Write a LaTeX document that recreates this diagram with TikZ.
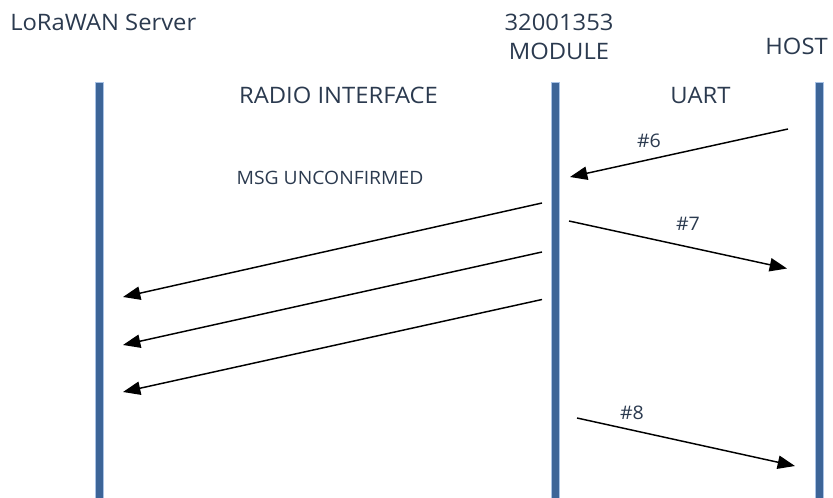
\documentclass[tikz,border=0pt]{standalone}
\usepackage{fontspec}
\setmainfont{Open Sans}[FakeStretch=1.05]
\usepackage{xcolor}
\usetikzlibrary{arrows.meta}
\usetikzlibrary{positioning}

\definecolor{BarBlue}{HTML}{3D6598}
\definecolor{BarEdge}{HTML}{A9C3E6}
\definecolor{LabelInk}{HTML}{2B3A4F}

\tikzset{
  lifeline/.style={draw=BarEdge, fill=BarBlue, line width=0.4pt},
  head/.style={font=\fontsize{17}{19}\selectfont, color=LabelInk, inner sep=0pt},
  msg/.style={-{Triangle[length=13pt, width=10pt]}, line width=1.1pt, color=black, shorten >=0pt},
  num/.style={font=\fontsize{14}{16}\selectfont, color=LabelInk, inner sep=0pt}
}

\begin{document}
\begin{tikzpicture}[x=0.75pt, y=-0.75pt]

    \useasboundingbox (0,0) rectangle (833,498);

    % lifelines
    \draw [lifeline] (95,82) rectangle (103.5,498);
    \draw [lifeline] (551,82) rectangle (559.5,498);
    \draw [lifeline] (815,82) rectangle (823.5,498);

    % headings
    \node [head, anchor=west] (server) at (10,22) {LoRaWAN Server};
    \node [head, align=center] (module) at (559,37) {32001353\\[3pt]MODULE};
    \node [head, anchor=east] (host) at (828,46) {HOST};
    \node [head] (radio) at (338.5,95) {RADIO INTERFACE};
    \node [head] (uart) at (700.5,95) {UART};
    \node [font=\fontsize{13.8}{16}\selectfont, color=LabelInk, inner sep=0pt] (unconf) at (330,178) {MSG UNCONFIRMED};

    % end points
    \coordinate (h6) at (788,129);
    \coordinate (m6) at (570,177);
    \coordinate (m7) at (569,221);
    \coordinate (h7) at (787,268.5);
    \coordinate (ma) at (542,203);
    \coordinate (sa) at (123,297);
    \coordinate (mb) at (542,252);
    \coordinate (sb) at (123,345);
    \coordinate (mc) at (542,299.5);
    \coordinate (sc) at (123,392);
    \coordinate (m8) at (577,418);
    \coordinate (h8) at (795,466);

    % messages
    \draw [msg] (h6) -- (m6);
    \draw [msg] (m7) -- (h7);
    \draw [msg] (ma) -- (sa);
    \draw [msg] (mb) -- (sb);
    \draw [msg] (mc) -- (sc);
    \draw [msg] (m8) -- (h8);

    \node [num] (n6) at (649,141) {\#6};
    \node [num] (n7) at (688,224) {\#7};
    \node [num] (n8) at (632,413) {\#8};

  \end{tikzpicture}
\end{document}
